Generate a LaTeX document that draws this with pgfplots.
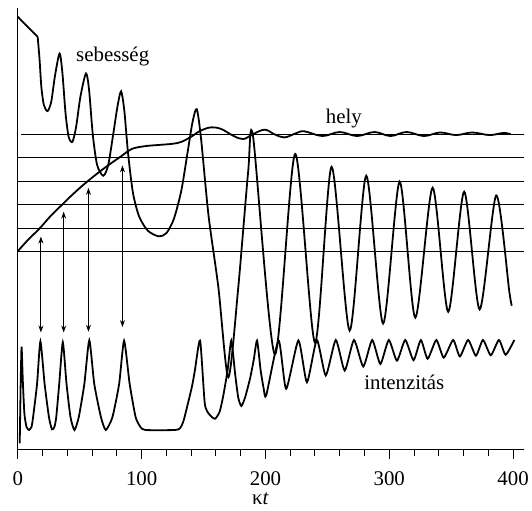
\documentclass[border=0pt]{standalone}
\usepackage{fontspec}
\setmainfont{Liberation Serif}
\usepackage{pgfplots}
\pgfplotsset{compat=1.18}
\usetikzlibrary{arrows.meta}

% sebesseg (velocity), after the first straight piece
\pgfplotstableread{
x y
16 17.15
17.5 16.2
19 15.0
21 14.25
24 13.99
27 14.4
30 15.5
33.7 16.44
36 15.6
38.5 13.9
41 12.9
44 12.68
47 13.3
50.5 14.6
55 15.59
57.5 14.9
60.5 13.0
64 11.7
69 11.24
73 11.7
77 13.0
80.5 14.2
83.4 14.83
86 14.0
89 12.2
93 10.5
98 9.5
105 8.9
113.8 8.66
120 8.8
126 9.4
132 10.6
137 12.2
141 13.5
144.5 14.07
148 12.8
154 9.55
162 6.47
170 2.66
178 6.47
186 11.4
190 12.9
207.6 3.64
224 12.17
240 4.14
253.4 11.62
268 4.65
281.4 11.24
295 4.95
308.4 10.99
321 5.20
335 10.73
347.6 5.45
360.5 10.56
373 5.55
386.4 10.40
397 6.3
399 5.71
}\velocity

% hely (position)
\pgfplotstableread{
x y
0 8.03
8 8.5
17.6 9.0
26 9.5
35 9.97
45 10.48
56 10.99
70 11.57
84 12.09
92 12.38
103 12.5
114 12.55
125 12.6
132 12.68
140 12.9
148 13.17
156.6 13.30
164.6 13.22
174 12.94
182 12.80
190 13.01
199.4 13.2
207.4 13.0
215.4 12.87
224.7 13.05
231.4 13.13
246 12.93
260 13.10
274 12.93
288 13.10
301 12.93
314 13.10
328 12.93
341 13.08
354 12.97
367 13.08
381 12.97
392 13.06
398 13.01
}\position

% intenzitas (intensity)
\pgfplotstableread{
x y
1.5 -0.15
2.3 2.5
3 3.97
4 2.5
5.3 1.1
7 0.55
9 0.42
11 0.55
12.3 0.97
15.5 2.38
18.2 4.19
21.6 2.38
25.1 0.97
27.5 0.45
29.5 0.55
31 0.97
33.4 2.38
36.3 4.15
39.3 2.38
42.5 0.97
45.7 0.42
49.2 0.97
53.7 2.38
57.7 4.24
61.7 2.38
67.1 0.97
71 0.42
76.4 0.97
81.8 2.38
85.8 4.22
90.3 2.38
95.1 0.97
99 0.55
103 0.42
127 0.42
131 0.5
134 0.84
140.5 2.24
143 2.96
147.2 4.23
151 1.54
155 1.06
159.3 0.9
163 1.2
166 1.9
169.5 3.0
172.4 4.23
175.5 2.8
178 1.8
180.5 1.44
183.5 1.8
187.5 2.6
190.5 3.4
193.2 4.23
196 3.0
198.5 2.2
200.6 1.89
210.6 4.23
216.7 2.17
226.6 4.23
233.5 2.45
241.5 4.25
248.7 2.74
256.8 4.25
264 2.95
271.5 4.25
279 3.12
286.2 4.25
292.8 3.23
299.6 4.25
306.2 3.37
312.9 4.25
319.6 3.39
325.5 4.25
331 3.45
338 4.25
344 3.50
351.6 4.25
357 3.55
363.7 4.25
370 3.58
375.7 4.25
382 3.60
388.6 4.25
394 3.62
401 4.25
}\intensity

\begin{document}
\begin{tikzpicture}
\begin{axis}[
    scale only axis,
    width=510bp, height=445bp,
    xmin=0, xmax=409,
    ymin=-0.42, ymax=18.38,
    axis x line=bottom, axis y line=left,
    axis line style={-, line width=1.1bp},
    xtick={0,100,200,300,400},
    minor x tick num=4,
    ytick=\empty,
    minor ytick={3,4,...,18},
    tick align=outside,
    major tick length=9bp, minor tick length=6bp,
    every tick/.style={black, line width=1bp},
    tick label style={font=\fontsize{21bp}{25bp}\selectfont},
    /pgf/number format/assume math mode=true,
    xticklabel style={anchor=base, yshift=-27bp},
    clip=false,
]
% horizontal reference lines
\addplot[line width=1.2bp] coordinates {(0,8) (409,8)};
\addplot[line width=1.2bp] coordinates {(0,9) (409,9)};
\addplot[line width=1.2bp] coordinates {(0,10) (409,10)};
\addplot[line width=1.2bp] coordinates {(0,11) (409,11)};
\addplot[line width=1.2bp] coordinates {(0,12) (409,12)};
\addplot[line width=1.2bp] coordinates {(2.4,13) (409,13)};

% curves
\addplot[line width=1.8bp] coordinates {(0,18) (16,17.15)};
\addplot[line width=1.8bp, smooth, tension=0.45] table {\velocity};
\addplot[line width=1.8bp, smooth, tension=0.6] table {\position};
\addplot[line width=1.8bp, smooth, tension=0.35] table {\intensity};

% arrows
\addplot[line width=0.9bp, {Stealth[length=7bp,width=5bp]}-{Stealth[length=7bp,width=5bp]}]
    coordinates {(18.6,4.57) (18.6,8.65)};
\addplot[line width=0.9bp, {Stealth[length=7bp,width=5bp]}-{Stealth[length=7bp,width=5bp]}]
    coordinates {(37,4.57) (37,9.71)};
\addplot[line width=0.9bp, {Stealth[length=7bp,width=5bp]}-{Stealth[length=7bp,width=5bp]}]
    coordinates {(57,4.6) (57,10.72)};
\addplot[line width=0.9bp, {Stealth[length=7bp,width=5bp]}-{Stealth[length=7bp,width=5bp]}]
    coordinates {(84.5,4.8) (84.5,11.68)};

\node[anchor=base, font=\fontsize{21bp}{25bp}\selectfont] at (axis cs:76.6,16.10) {sebesség};
\node[anchor=base, font=\fontsize{21bp}{25bp}\selectfont] at (axis cs:263.3,13.48) {hely};
\node[anchor=base, font=\fontsize{21bp}{25bp}\selectfont] at (axis cs:312.2,2.13) {intenzitás};
\node[anchor=base, yshift=-55bp, font=\fontsize{21bp}{25bp}\selectfont]
    at (axis description cs:0.479,0) {κ\textit{t}};
\end{axis}
\path ([xshift=-18bp,yshift=-61bp]current axis.south west)
    rectangle ([xshift=4bp,yshift=8bp]current axis.north east);
\end{tikzpicture}
\end{document}
